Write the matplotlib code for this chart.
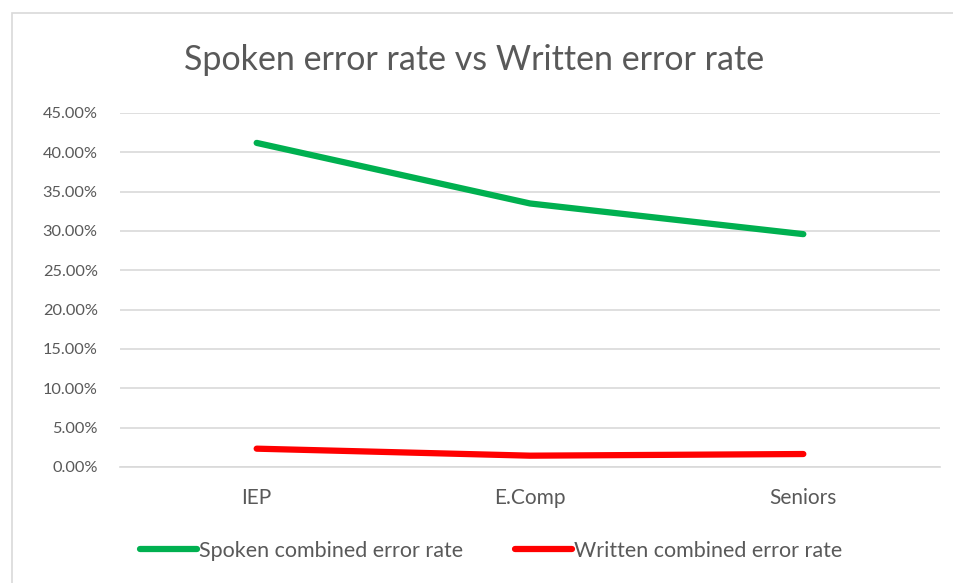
import matplotlib.pyplot as plt
from matplotlib.patches import Rectangle
from matplotlib.ticker import PercentFormatter

categories = ["IEP", "E.Comp", "Seniors"]
spoken = [0.412, 0.335, 0.296]
written = [0.0233, 0.0144, 0.0165]

plt.rcParams['font.family'] = ['Lato', 'DejaVu Sans']
text_color = "#595959"

fig = plt.figure(figsize=(9.54, 5.83), dpi=100)
fig.patches.append(Rectangle((12 / 954, -0.01), 1.0, 1 - 13 / 583 + 0.01,
                             transform=fig.transFigure, fill=False,
                             edgecolor="#d9d9d9", linewidth=1.2))

ax = fig.add_axes([120 / 954, 1 - 467 / 583, 820 / 954, 354 / 583])
x = range(len(categories))
ax.plot(x, spoken, color="#00b050", linewidth=4.5, solid_capstyle="round",
        solid_joinstyle="round", label="Spoken combined error rate")
ax.plot(x, written, color="#ff0000", linewidth=4.5, solid_capstyle="round",
        solid_joinstyle="round", label="Written combined error rate")

ax.set_xlim(-0.5, 2.5)
ax.set_ylim(0, 0.45)
ax.set_yticks([i * 0.05 for i in range(10)])
ax.yaxis.set_major_formatter(PercentFormatter(1.0, decimals=2))
ax.set_xticks(list(x))
ax.set_xticklabels(categories)
ax.grid(axis="y", color="#d9d9d9", linewidth=1.2)
ax.set_axisbelow(True)
for s in ["top", "right", "left"]:
    ax.spines[s].set_visible(False)
ax.spines["bottom"].set_color("#d9d9d9")
ax.spines["bottom"].set_linewidth(1.2)
ax.tick_params(axis="both", length=0, colors=text_color)
ax.tick_params(axis="x", pad=15, labelsize=15)
ax.tick_params(axis="y", pad=16, labelsize=11.8)

fig.text(0.497, 1 - 60 / 583, "Spoken error rate vs Written error rate",
         ha="center", va="center", fontsize=24.5, color=text_color)

leg = fig.legend(loc="center", bbox_to_anchor=(0.515, 1 - 551 / 583), ncol=2,
                 frameon=False, fontsize=15.5, handlelength=2.65, handletextpad=0.1,
                 columnspacing=2.4)
for t in leg.get_texts():
    t.set_color(text_color)

fig.savefig("out.png", dpi=100)
